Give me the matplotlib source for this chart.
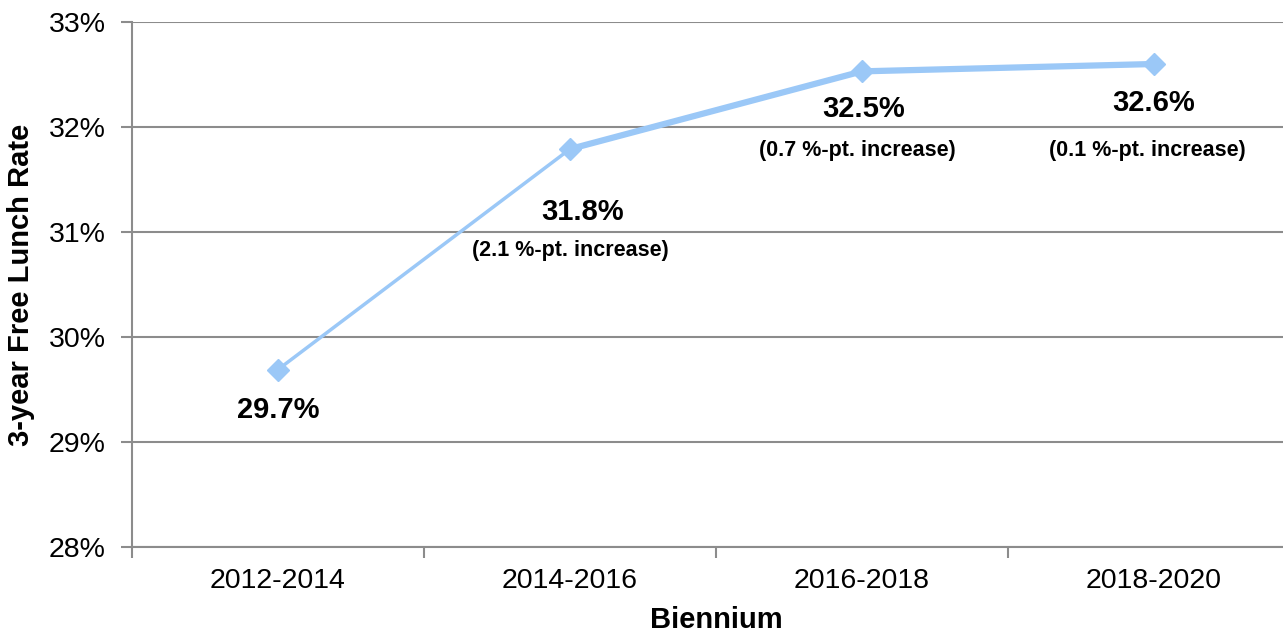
import matplotlib.pyplot as plt
import numpy as np
from matplotlib.ticker import FuncFormatter

plt.rcParams['font.family'] = ['Liberation Sans', 'DejaVu Sans']

# data
bienniums = ['2012-2014', '2014-2016', '2016-2018', '2018-2020']
rates = [29.69, 31.79, 32.53, 32.6]
value_labels = ['29.7%', '31.8%', '32.5%', '32.6%']
change_labels = ['', '(2.1 %-pt. increase)', '(0.7 %-pt. increase)', '(0.1 %-pt. increase)']

line_color = '#9BC8F7'
grid_color = '#8C8C8C'

x = np.arange(len(bienniums))

fig = plt.figure(figsize=(12.83, 6.36), dpi=100)
ax = fig.add_axes([132 / 1283, 89 / 636, 1168 / 1283, 525 / 636])

# first segment is thinner than the rest in the original
ax.plot(x[:2], rates[:2], color=line_color, lw=2.5, zorder=3)
ax.plot(x[1:], rates[1:], color=line_color, lw=4.5, zorder=3)
ax.plot(x, rates, ls='none', marker='D', ms=11, color=line_color, zorder=4)

# label offsets in pixels (value label, change label)
val_off = [(0, -40), (13, -63), (2, -38), (0, -39)]
chg_off = [(0, 0), (0, -101), (-5, -79), (-7, -86)]
for i in range(len(x)):
    ax.annotate(value_labels[i], (x[i], rates[i]), xytext=val_off[i], textcoords='offset pixels',
                ha='center', va='center', fontsize=21, fontweight='bold', color='black')
    if change_labels[i]:
        ax.annotate(change_labels[i], (x[i], rates[i]), xytext=chg_off[i], textcoords='offset pixels',
                    ha='center', va='center', fontsize=15.5, fontweight='bold', color='black')

ax.set_xlim(-0.5, 3.5)
ax.set_ylim(28, 33)
ax.set_yticks(np.arange(28, 34, 1))
ax.yaxis.set_major_formatter(FuncFormatter(lambda v, p: f'{int(v)}%'))
ax.set_xticks(x)
ax.set_xticklabels(bienniums)
ax.set_xticks(np.arange(-0.5, 4, 1), minor=True)

ax.tick_params(axis='x', which='major', length=0, pad=15, labelsize=20.5)
ax.tick_params(axis='x', which='minor', length=8, width=1.5, color=grid_color, direction='out')
ax.tick_params(axis='y', length=8, width=1.5, color=grid_color, pad=11, labelsize=20.5)

ax.grid(axis='y', color=grid_color, lw=1.5)
ax.set_axisbelow(True)
for s in ['top', 'right']:
    ax.spines[s].set_visible(False)
for s in ['left', 'bottom']:
    ax.spines[s].set_color(grid_color)
    ax.spines[s].set_linewidth(1.5)

ax.set_xlabel('Biennium', fontsize=21, fontweight='bold', labelpad=9)
ax.set_ylabel('3-year Free Lunch Rate', fontsize=21, fontweight='bold', labelpad=10)

fig.savefig('out.png', dpi=100)
